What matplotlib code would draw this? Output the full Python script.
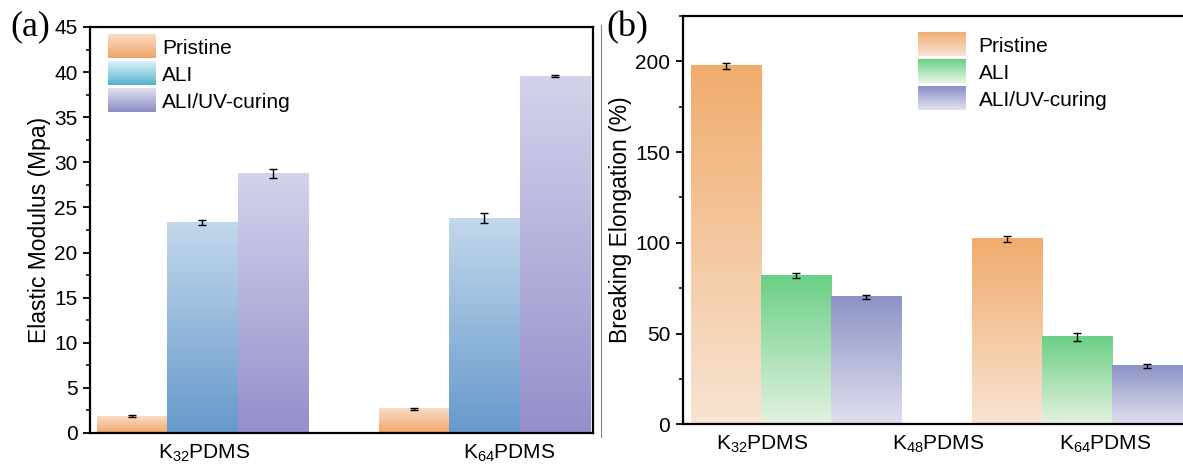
import numpy as np
import matplotlib
matplotlib.use('Agg')
import matplotlib.pyplot as plt
from matplotlib.colors import LinearSegmentedColormap
from matplotlib.legend_handler import HandlerBase
from matplotlib.image import BboxImage
from matplotlib.transforms import Bbox, TransformedBbox
from matplotlib.patches import Rectangle
from matplotlib.lines import Line2D
from matplotlib.ticker import MultipleLocator

plt.rcParams['font.family'] = ['Liberation Sans', 'DejaVu Sans']
plt.rcParams['mathtext.default'] = 'regular'

# ---------------- data ----------------
series = ['Pristine', 'ALI', 'ALI/UV-curing']

cats_a = [r'K$_{32}$PDMS', r'K$_{64}$PDMS']
modulus_pristine = [1.85, 2.7]
modulus_ali = [23.35, 23.8]
modulus_uv = [28.75, 39.55]
modulus_pristine_err = [0.1, 0.1]
modulus_ali_err = [0.25, 0.55]
modulus_uv_err = [0.5, 0.1]

cats_b = [r'K$_{32}$PDMS', r'K$_{48}$PDMS', r'K$_{64}$PDMS']
elong_pristine = [197.5, np.nan, 102.0]
elong_ali = [82.0, np.nan, 48.3]
elong_uv = [70.0, np.nan, 32.0]
elong_pristine_err = [1.5, np.nan, 1.5]
elong_ali_err = [1.5, np.nan, 2.2]
elong_uv_err = [1.0, np.nan, 1.0]

# ---------------- style ----------------
# (top colour, bottom colour)
cols_a = [('#FADCC4', '#F2A66A'), ('#C3D8EB', '#6699CC'), ('#D3D3EB', '#958FCB')]
leg_cols_a = [('#FADDC6', '#F0A468'), ('#E0F1F8', '#55B2CE'), ('#E3E1F0', '#8C8EC4')]
cols_b = [('#F0AC6C', '#F8E4D3'), ('#6BCF86', '#E3F2E1'), ('#8D93C5', '#E0E0EF')]
leg_cols_b = [('#F0AD6F', '#F8E4D4'), ('#6CD086', '#E8F5E8'), ('#8890C6', '#E3E3F0')]

W, H = 1183, 468
fig = plt.figure(figsize=(W / 100, H / 100), dpi=100)

TICK_FS = 15
LABEL_FS = 16.5
LEG_FS = 15


def cmap_of(top, bottom):
    return LinearSegmentedColormap.from_list('g', [bottom, top])


def grad_bars(ax, xs, heights, errs, width, top, bottom):
    bars = ax.bar(xs, heights, width, color='none', edgecolor='none', yerr=errs,
                  capsize=3, error_kw=dict(elinewidth=1, capthick=1, ecolor='black', zorder=4))
    cmap = cmap_of(top, bottom)
    grad = np.linspace(0, 1, 256).reshape(-1, 1)
    for b in bars:
        h = b.get_height()
        if not np.isfinite(h) or h == 0:
            continue
        x0 = b.get_x()
        w = b.get_width()
        ax.imshow(grad, extent=[x0, x0 + w, 0, h], origin='lower', cmap=cmap,
                  aspect='auto', zorder=1, interpolation='bilinear')
    return bars


class GradHandler(HandlerBase):
    def __init__(self, top, bottom):
        super().__init__()
        self.cmap = cmap_of(top, bottom)

    def create_artists(self, legend, orig_handle, xdescent, ydescent, width, height,
                       fontsize, trans):
        bb = Bbox.from_bounds(-xdescent, -ydescent, width, height)
        tbb = TransformedBbox(bb, trans)
        im = BboxImage(tbb, cmap=self.cmap, interpolation='bilinear', origin='lower')
        im.set_data(np.linspace(0, 1, 64).reshape(-1, 1))
        im.set_clim(0, 1)
        return [im]


def style_axes(ax):
    for s in ax.spines.values():
        s.set_linewidth(1.6)
    ax.tick_params(axis='y', which='major', direction='out', length=5, width=1.3,
                   labelsize=TICK_FS, pad=4)
    ax.tick_params(axis='y', which='minor', direction='out', length=3, width=1.1)
    ax.tick_params(axis='x', which='both', length=0, labelsize=TICK_FS, pad=7)
    ax.tick_params(right=False, top=False)


# ---------------- panel (a) ----------------
ax1 = fig.add_axes([90 / W, 1 - 433 / H, 503 / W, 406 / H])
xa = np.arange(len(cats_a))
bw_a = 0.25
grad_bars(ax1, xa - bw_a, modulus_pristine, modulus_pristine_err, bw_a, *cols_a[0])
grad_bars(ax1, xa, modulus_ali, modulus_ali_err, bw_a, *cols_a[1])
grad_bars(ax1, xa + bw_a, modulus_uv, modulus_uv_err, bw_a, *cols_a[2])
ax1.set_xlim(-0.399, 1.385)
ax1.set_ylim(0, 45)
ax1.yaxis.set_major_locator(MultipleLocator(5))
ax1.yaxis.set_minor_locator(MultipleLocator(2.5))
ax1.set_xticks([0.005, 1.087])
ax1.set_xticklabels(cats_a)
ax1.set_ylabel('Elastic Modulus (Mpa)', fontsize=LABEL_FS, labelpad=2)
style_axes(ax1)

proxies_a = [Rectangle((0, 0), 1, 1) for _ in series]
ax1.legend(proxies_a, series, loc='upper left', bbox_to_anchor=(18 / 503, 1 - 8 / 406),
           frameon=False, fontsize=LEG_FS, borderpad=0, borderaxespad=0,
           handlelength=2.3, handleheight=1.35, labelspacing=0.17, handletextpad=0.3,
           handler_map={p: GradHandler(*c) for p, c in zip(proxies_a, leg_cols_a)})

# ---------------- panel (b) ----------------
ax2 = fig.add_axes([682.7 / W, 1 - 424.3 / H, 503.3 / W, 408.3 / H])
xb = np.arange(len(cats_b))
bw_b = 0.5
grad_bars(ax2, xb - bw_b, elong_pristine, elong_pristine_err, bw_b, *cols_b[0])
grad_bars(ax2, xb, elong_ali, elong_ali_err, bw_b, *cols_b[1])
grad_bars(ax2, xb + bw_b, elong_uv, elong_uv_err, bw_b, *cols_b[2])
ax2.set_xlim(-0.806, 2.776)
ax2.set_ylim(0, 225)
ax2.yaxis.set_major_locator(MultipleLocator(50))
ax2.yaxis.set_minor_locator(MultipleLocator(25))
ax2.set_xticks([-0.242, 1.01, 2.2])
ax2.set_xticklabels(cats_b)
ax2.set_ylabel('Breaking Elongation (%)', fontsize=LABEL_FS, labelpad=2)
style_axes(ax2)

proxies_b = [Rectangle((0, 0), 1, 1) for _ in series]
ax2.legend(proxies_b, series, loc='upper left', bbox_to_anchor=(235 / 503.3, 1 - 17 / 408.3),
           frameon=False, fontsize=LEG_FS, borderpad=0, borderaxespad=0,
           handlelength=2.3, handleheight=1.35, labelspacing=0.17, handletextpad=0.62,
           handler_map={p: GradHandler(*c) for p, c in zip(proxies_b, leg_cols_b)})

# panel letters and separator
fig.text(10 / W, 1 - 27 / H, '(a)', fontsize=26, family='Liberation Serif', va='center', ha='left')
fig.text(606 / W, 1 - 28 / H, '(b)', fontsize=26, family='Liberation Serif', va='center', ha='left')
fig.add_artist(Line2D([601 / W, 601 / W], [1 - 25 / H, 1 - 437 / H], transform=fig.transFigure,
                      color='#808080', lw=0.8))

fig.savefig('out.png', dpi=100)
